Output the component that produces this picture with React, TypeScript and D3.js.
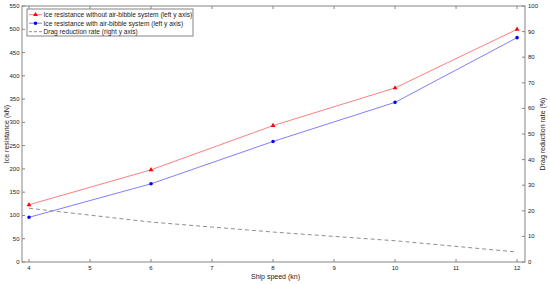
import React from "react";
import * as d3 from "d3";

const speeds = [4, 6, 8, 10, 12];
const withoutBubble = [123, 198, 293, 374, 500];
const withBubble = [96, 168, 259, 343, 482];
const dragRate = [21, 15.6, 11.7, 8.3, 3.9];

const xTicks = [4, 5, 6, 7, 8, 9, 10, 11, 12];
const leftTicks = [0, 50, 100, 150, 200, 250, 300, 350, 400, 450, 500, 550];
const rightTicks = [0, 10, 20, 30, 40, 50, 60, 70, 80, 90, 100];

const legendLabels = [
  "Ice resistance without air-bibble system (left y axis)",
  "Ice resistance with air-bibble system (left y axis)",
  "Drag reduction rate (right y axis)",
];

const W = 550;
const H = 284;
const margin = { top: 6, right: 25, bottom: 22, left: 22 };
const font = "'Liberation Sans', Arial, Helvetica, sans-serif";
const axisColor = "#858585";

const App = () => {
  const x = d3
    .scaleLinear()
    .domain([3.885, 12.13])
    .range([margin.left, W - margin.right]);
  const yL = d3
    .scaleLinear()
    .domain([0, 550])
    .range([H - margin.bottom, margin.top]);
  const yR = d3
    .scaleLinear()
    .domain([0, 100])
    .range([H - margin.bottom, margin.top]);

  const lineL = d3
    .line<number>()
    .x((d, i) => x(speeds[i]))
    .y((d) => yL(d));
  const lineR = d3
    .line<number>()
    .x((d, i) => x(speeds[i]))
    .y((d) => yR(d));

  const x0 = margin.left;
  const x1 = W - margin.right;
  const y0 = H - margin.bottom;
  const y1 = margin.top;
  const tl = 3;

  const tri = d3.symbol().type(d3.symbolTriangle).size(10)();
  const circ = d3.symbol().type(d3.symbolCircle).size(10)();

  return (
    <svg
      width={W}
      height={H}
      style={{ position: "absolute", left: 0, top: 0, background: "#fff" }}
      fontFamily={font}
    >
      <rect x={0} y={0} width={W} height={H} fill="#fff" />

      {/* series */}
      <path d={lineL(withoutBubble) || ""} fill="none" stroke="#ff7f7f" strokeWidth={1} />
      <path d={lineL(withBubble) || ""} fill="none" stroke="#7f7fff" strokeWidth={1} />
      <path
        d={lineR(dragRate) || ""}
        fill="none"
        stroke="#8f8f8f"
        strokeWidth={1}
        strokeDasharray="4,3"
      />
      {withoutBubble.map((d, i) => (
        <path key={"r" + i} d={tri || ""} transform={`translate(${x(speeds[i])},${yL(d)})`} fill="#ff0000" />
      ))}
      {withBubble.map((d, i) => (
        <path key={"b" + i} d={circ || ""} transform={`translate(${x(speeds[i])},${yL(d)})`} fill="#0000ff" />
      ))}

      {/* box */}
      <rect x={x0} y={y1} width={x1 - x0} height={y0 - y1} fill="none" stroke={axisColor} strokeWidth={1} />

      {/* x ticks */}
      {xTicks.map((t) => (
        <g key={"x" + t}>
          <line x1={x(t)} x2={x(t)} y1={y0} y2={y0 - tl} stroke={axisColor} />
          <line x1={x(t)} x2={x(t)} y1={y1} y2={y1 + tl} stroke={axisColor} />
          <text x={x(t)} y={y0 + 8} fontSize={6} textAnchor="middle" fill="#222">
            {t}
          </text>
        </g>
      ))}

      {/* left ticks */}
      {leftTicks.map((t) => (
        <g key={"l" + t}>
          <line x1={x0} x2={x0 + tl} y1={yL(t)} y2={yL(t)} stroke={axisColor} />
          <text x={x0 - 2.5} y={yL(t) + 2} fontSize={6} textAnchor="end" fill="#222">
            {t}
          </text>
        </g>
      ))}

      {/* right ticks */}
      {rightTicks.map((t) => (
        <g key={"rt" + t}>
          <line x1={x1} x2={x1 - tl} y1={yR(t)} y2={yR(t)} stroke={axisColor} />
          <text x={x1 + 3} y={yR(t) + 2} fontSize={6} textAnchor="start" fill="#222">
            {t}
          </text>
        </g>
      ))}

      {/* axis titles */}
      <text x={(x0 + x1) / 2 + 2} y={H - 5} fontSize={7} textAnchor="middle" fill="#222">
        Ship speed (kn)
      </text>
      <text
        transform={`translate(9,${(y0 + y1) / 2}) rotate(-90)`}
        fontSize={7}
        textAnchor="middle"
        fill="#222"
      >
        Ice resistance (kN)
      </text>
      <text
        transform={`translate(545,${(y0 + y1) / 2}) rotate(-90)`}
        fontSize={7}
        textAnchor="middle"
        fill="#222"
      >
        Drag reduction rate (%)
      </text>

      {/* legend */}
      <g transform="translate(27,9)">
        <rect x={0} y={0} width={166} height={27} fill="#fff" stroke={axisColor} strokeWidth={1} />
        {legendLabels.map((lab, i) => {
          const ly = 5.7 + i * 8.5;
          return (
            <g key={"lg" + i}>
              <line
                x1={2}
                x2={15}
                y1={ly}
                y2={ly}
                stroke={i === 0 ? "#ff7f7f" : i === 1 ? "#7f7fff" : "#8f8f8f"}
                strokeDasharray={i === 2 ? "3,2" : undefined}
              />
              {i === 0 && <path d={tri || ""} transform={`translate(8.5,${ly})`} fill="#ff0000" />}
              {i === 1 && <path d={circ || ""} transform={`translate(8.5,${ly})`} fill="#0000ff" />}
              <text x={16.5} y={ly + 2.3} fontSize={6.6} fill="#222">
                {lab}
              </text>
            </g>
          );
        })}
      </g>
    </svg>
  );
};

export default App;
